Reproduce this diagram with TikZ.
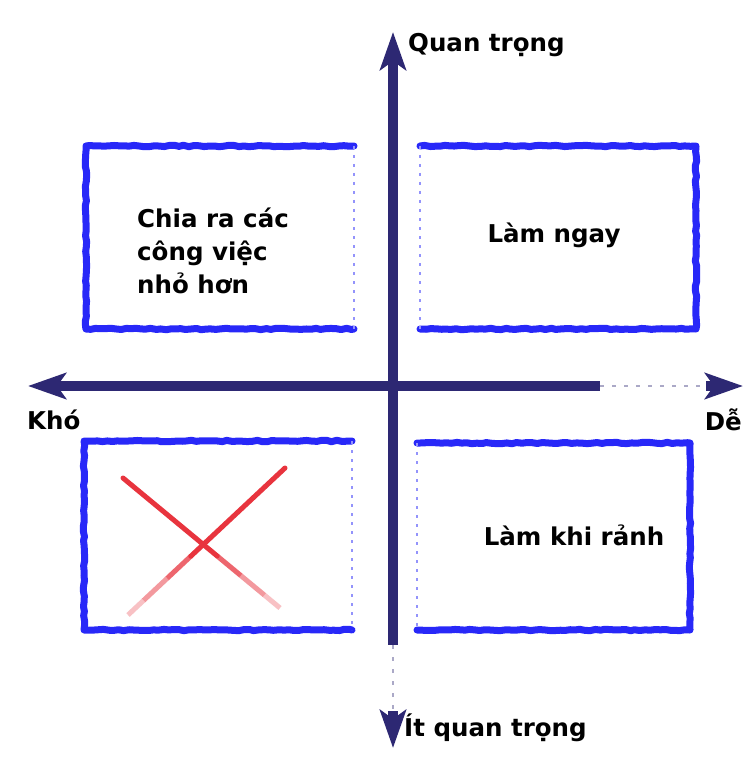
\documentclass[tikz,border=0pt]{standalone}
\usepackage{fontspec}
\setmainfont{DejaVu Sans}
\usetikzlibrary{arrows.meta,calc,decorations.pathmorphing}
\definecolor{boxblue}{RGB}{40,40,248}
\definecolor{axisnavy}{RGB}{45,40,115}
\definecolor{xred}{RGB}{232,52,62}
\tikzset{
  frame/.style={draw=boxblue, line width=7pt, line join=round, line cap=round,
    decorate, decoration={random steps, segment length=5pt, amplitude=0.7pt}},
  fadedframe/.style={draw=boxblue!50, line width=2pt, dash pattern=on 3pt off 6pt},
  axis/.style={draw=axisnavy, line width=10pt},
  axisfade/.style={draw=axisnavy!40, line width=2pt, dash pattern=on 4pt off 8pt},
  tip/.style={-{Stealth[length=38pt,width=26pt,inset=9pt]}},
  xstroke/.style={draw=xred, line width=5pt, line cap=round},
  lbl/.style={inner sep=0pt, font=\bfseries\fontsize{24.5}{33}\selectfont},
}
\begin{document}
\begin{tikzpicture}[x=1pt, y=-1pt]
  \pgfmathsetseed{7}
  \useasboundingbox (0,0) rectangle (752,759);
  \fill[white] (0,0) rectangle (752,759);
  \foreach \xa/\ya/\xb/\yb in {86/146/354/329, 84/441/352/630} {
    \draw[frame] (\xb,\ya) -- (\xa,\ya) -- (\xa,\yb) -- (\xb,\yb);
    \draw[fadedframe] (\xb,\ya) -- (\xb,\yb);
  }
  \foreach \xa/\ya/\xb/\yb in {420/146/696/329, 417/443/690/630} {
    \draw[frame] (\xa,\ya) -- (\xb,\ya) -- (\xb,\yb) -- (\xa,\yb);
    \draw[fadedframe] (\xa,\ya) -- (\xa,\yb);
  }
  \coordinate (O) at (393,386);
  \coordinate (N) at (393,32);
  \coordinate (S) at (393,748);
  \coordinate (W) at (28,386);
  \coordinate (E) at (743,386);
  \coordinate (s1) at (393,645);
  \coordinate (s2) at (393,711);
  \coordinate (e1) at (600,386);
  \coordinate (e2) at (706,386);
  \draw[axis, tip] (O) -- (N);
  \draw[axis] (O) -- (s1);
  \draw[axisfade] (s1) -- (s2);
  \draw[axis, tip] (s2) -- (S);
  \draw[axis, tip] (O) -- (W);
  \draw[axis] (O) -- (e1);
  \draw[axisfade] (e1) -- (e2);
  \draw[axis, tip] (e2) -- (E);
  \coordinate (xa1) at (123,478);
  \coordinate (xa2) at (280,608);
  \coordinate (xb1) at (285,468);
  \coordinate (xb2) at (128,615);
  \draw[xstroke] (xa1) -- ($(xa1)!0.6!(xa2)$);
  \draw[xstroke] (xb1) -- ($(xb1)!0.6!(xb2)$);
  \foreach \a/\b/\o in {0.6/0.75/0.75, 0.75/0.9/0.5, 0.9/1/0.3} {
    \draw[xstroke, line cap=butt, opacity=\o] ($(xa1)!\a!(xa2)$) -- ($(xa1)!\b!(xa2)$);
    \draw[xstroke, line cap=butt, opacity=\o] ($(xb1)!\a!(xb2)$) -- ($(xb1)!\b!(xb2)$);
  }
  \node[lbl, anchor=west] (imp) at (408,45) {Quan trọng};
  \node[lbl, anchor=west] (unimp) at (404,728) {Ít quan trọng};
  \node[lbl, anchor=west] (hard) at (27,420) {Khó};
  \node[lbl, anchor=east] (easy) at (742,420) {Dễ};
  \node[lbl, align=left, anchor=west] (split) at (137,251) {Chia ra các\\công việc\\nhỏ hơn};
  \node[lbl] (now) at (554,235) {Làm ngay};
  \node[lbl] (later) at (574,535) {Làm khi rảnh};
\end{tikzpicture}
\end{document}
